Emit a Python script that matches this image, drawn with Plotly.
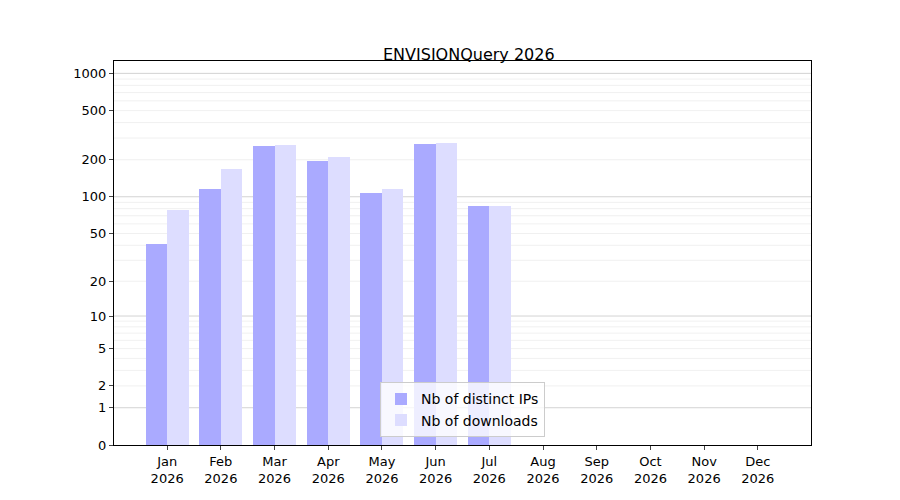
import numpy as np
import plotly.graph_objects as go

months = ["Jan<br>2026","Feb<br>2026","Mar<br>2026","Apr<br>2026","May<br>2026","Jun<br>2026",
          "Jul<br>2026","Aug<br>2026","Sep<br>2026","Oct<br>2026","Nov<br>2026","Dec<br>2026"]
ips = [41, 115, 257, 194, 107, 266, 84, 0, 0, 0, 0, 0]
downloads = [78, 167, 262, 209, 115, 271, 84, 0, 0, 0, 0, 0]
tick_vals = [0, 1, 2, 5, 10, 20, 50, 100, 200, 500, 1000]

def tr(v):
    return np.log10(np.asarray(v, dtype=float) + 1)

x = np.arange(len(months))
fig = go.Figure()
fig.add_bar(x=x - 0.2, y=tr(ips), width=0.4, name="Nb of distinct IPs",
            marker=dict(color="#aaaaff", line=dict(width=0)))
fig.add_bar(x=x + 0.2, y=tr(downloads), width=0.4, name="Nb of downloads",
            marker=dict(color="#ddddff", line=dict(width=0)))

shapes = []
for dec in [1, 10, 100]:
    for m in range(1, 10):
        v = dec * m
        major = m == 1
        shapes.append(dict(type="line", xref="paper", x0=0, x1=1, yref="y",
                           y0=float(tr(v)), y1=float(tr(v)), layer="below",
                           line=dict(color="#c8c8c8" if major else "#ececec", width=0.8)))
shapes.append(dict(type="line", xref="paper", x0=0, x1=1, yref="y",
                   y0=float(tr(1000)), y1=float(tr(1000)), layer="below",
                   line=dict(color="#c8c8c8", width=0.8)))

fig.update_layout(
    width=900, height=500, plot_bgcolor="white", paper_bgcolor="white",
    margin=dict(l=106, r=97, t=53, b=63),
    title=dict(text="ENVISIONQuery 2026", x=0.512, xanchor="center", y=0.908, yanchor="middle",
               font=dict(family="DejaVu Sans", size=16, color="black")),
    font=dict(family="DejaVu Sans", size=13, color="black"),
    barmode="overlay", bargap=0, shapes=shapes,
    legend=dict(x=0.5, y=0.02, xanchor="center", yanchor="bottom",
                bgcolor="rgba(255,255,255,0.8)", bordercolor="#cccccc", borderwidth=1,
                font=dict(size=14)),
    xaxis=dict(range=[-0.99, 11.99], tickvals=list(x), ticktext=months, showgrid=False,
               ticks="outside", ticklen=4, showline=True, linecolor="black", mirror=True,
               zeroline=False),
    yaxis=dict(range=[0, float(tr(1000)) + 0.1], tickvals=list(tr(tick_vals)),
               ticktext=[str(v) for v in tick_vals], showgrid=False, ticks="outside",
               ticklen=4, showline=True, linecolor="black", mirror=True, zeroline=False),
)
fig.write_html("out.html")
